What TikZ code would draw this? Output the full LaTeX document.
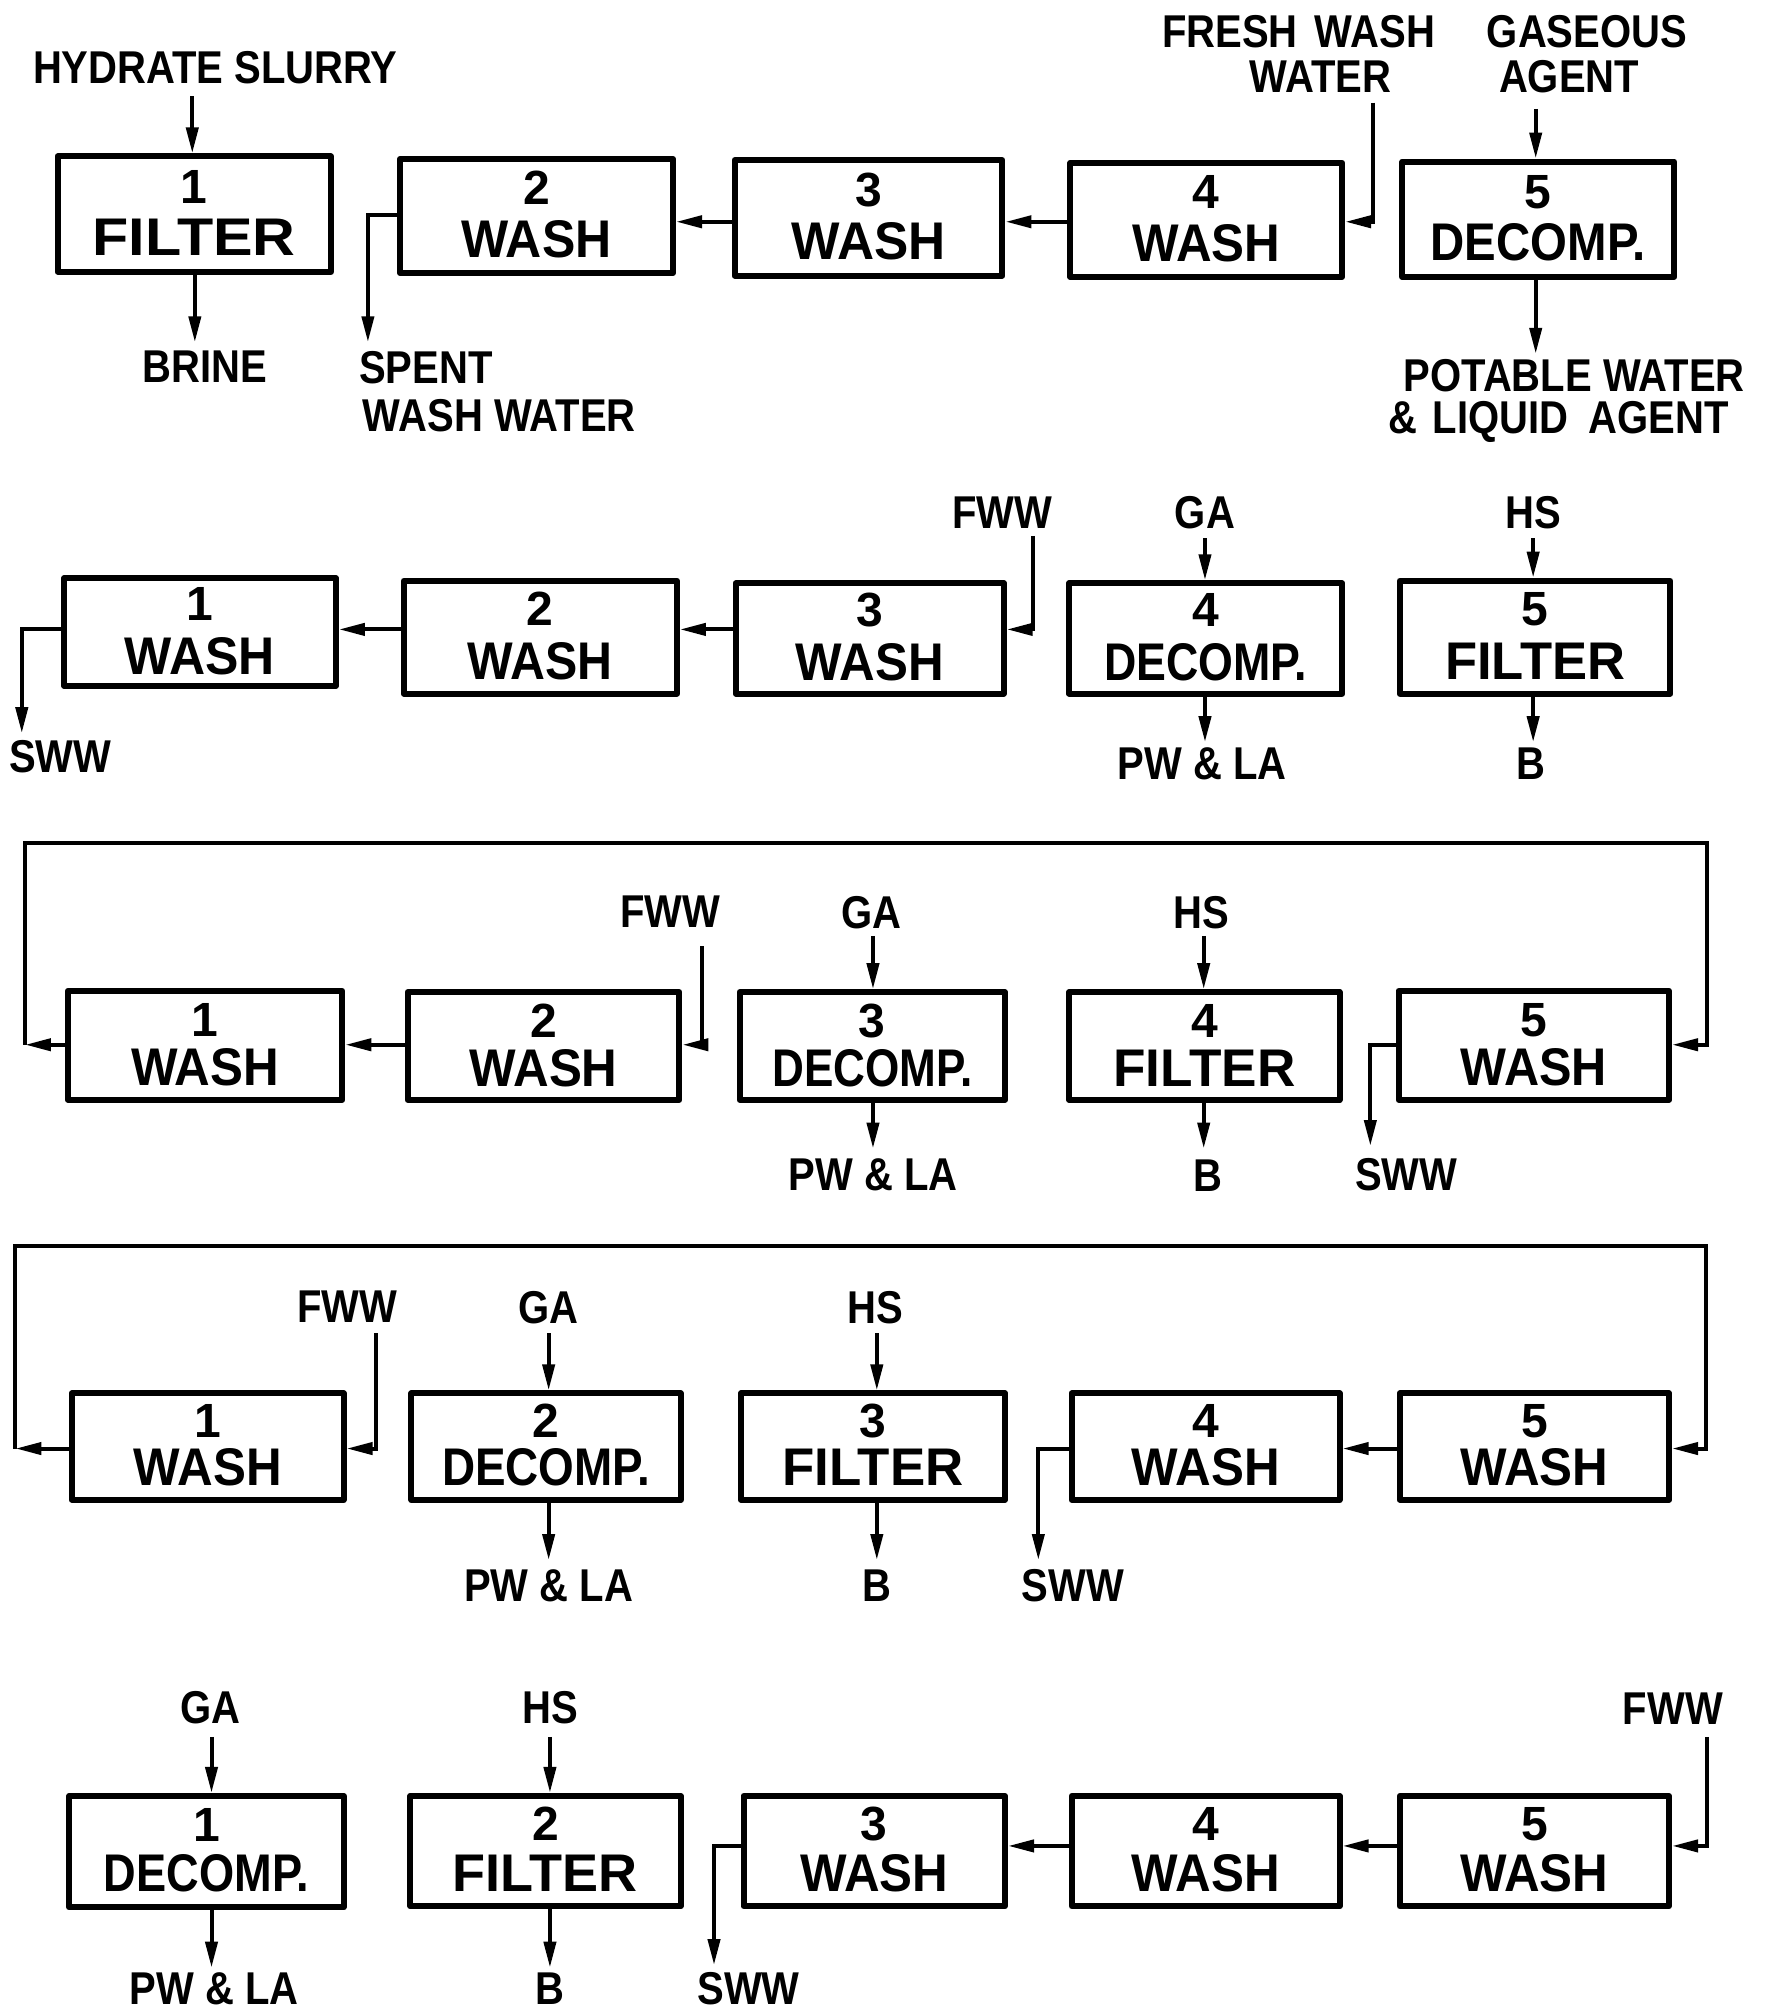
\documentclass[tikz,border=0pt]{standalone}
\usepackage{fontspec}
\setmainfont{Liberation Sans}
\newfontfamily\lblfont{Liberation Sans}[FakeStretch=0.87]
\usetikzlibrary{arrows.meta,fit}
\tikzset{
 box/.style={draw, line width=6pt, line join=round, inner sep=0pt},
 num/.style={inner sep=0pt, font=\bfseries\fontsize{48}{48}\selectfont, text height=33pt, text depth=0pt},
 word/.style={inner sep=0pt, font=\bfseries\fontsize{53}{53}\selectfont, text height=36.5pt, text depth=0pt},
 lbl/.style={inner sep=0pt, font=\lblfont\bfseries\fontsize{46}{46}\selectfont, text height=31.6pt, text depth=0pt},
 conn/.style={line width=4pt, line join=miter},
 arr/.style={conn, -{Triangle[length=26pt,width=12pt]}},
}
% box: name, x1, y1, x2, y2, digit, word width, word
\newcommand{\mkbox}[8]{%
 \node[box, fit={(#2,#3)(#4,#5)}] (#1) {};
 \node[num, yshift=\dup] (#1n) at (#1.center) {#6};
 \node[word, yshift=-\wdn] (#1w) at (#1.center) {\resizebox{#7pt}{\height}{#8}};}
\begin{document}
\begin{tikzpicture}[x=1.2818pt,y=-1.2818pt]
\useasboundingbox (0,0) rectangle (1377,1568);

% ---------------- Row 1 ----------------
\def\dup{27.5pt}\def\wdn{23.5pt}
\mkbox{r1b1}{45}{122}{258}{212}{1}{203}{FILTER}
\mkbox{r1b2}{312}{124}{525}{213}{2}{150}{WASH}
\mkbox{r1b3}{573}{125}{782}{215}{3}{154}{WASH}
\mkbox{r1b4}{835}{127}{1047}{216}{4}{148}{WASH}
\mkbox{r1b5}{1094}{126}{1306}{216}{5}{215}{DECOMP.}

\node[lbl] (t1hs) at (168,53) {HYDRATE SLURRY};
\node[lbl] (t1br) at (160,286) {BRINE};
\node[lbl, anchor=west] (t1sp) at (280,287) {SPENT};
\node[lbl, anchor=west] (t1sw) at (283,324) {WASH WATER};
\node[lbl] (t1fw) at (1013,25) {FRESH\hspace{6pt} WASH};
\node[lbl] (t1wa) at (1030,60) {WATER};
\node[lbl] (t1ga) at (1238,25) {GASEOUS};
\node[lbl] (t1ag) at (1224,60) {AGENT};
\node[lbl] (t1pw) at (1228,293) {POTABLE WATER};
\node[lbl] (t1la) at (1216,326) {\&\hspace{4pt} LIQUID\hspace{9pt} AGENT};

\coordinate (r1y) at (0,173);
\coordinate (r1s) at (0,168);
\coordinate (hs1) at (150,75);
\coordinate (br1) at (152,267);
\coordinate (sp1) at (287,267);
\coordinate (fw1) at (1071,80);
\coordinate (ga1) at (1198,85);
\coordinate (pa1) at (1198,276);
\draw[arr] (hs1) -- (hs1 |- r1b1.north);
\draw[arr] (br1 |- r1b1.south) -- (br1);
\draw[arr] (r1b2.west |- r1s) -| (sp1);
\draw[arr] (r1b3.west |- r1y) -- (r1b2.east |- r1y);
\draw[arr] (r1b4.west |- r1y) -- (r1b3.east |- r1y);
\draw[arr] (fw1) |- (r1b4.east |- r1y);
\draw[arr] (ga1) -- (ga1 |- r1b5.north);
\draw[arr] (pa1 |- r1b5.south) -- (pa1);

% ---------------- Row 2 ----------------
\def\dup{28pt}\def\wdn{24pt}
\mkbox{r2b1}{50}{451}{262}{535}{1}{150}{WASH}
\mkbox{r2b2}{315}{453}{528}{541}{2}{145}{WASH}
\mkbox{r2b3}{574}{455}{783}{541}{3}{148}{WASH}
\mkbox{r2b4}{834}{455}{1047}{541}{4}{203}{DECOMP.}
\mkbox{r2b5}{1092}{453}{1303}{541}{5}{180}{FILTER}

\node[lbl] (t2fw) at (782,400) {FWW};
\node[lbl] (t2ga) at (940,400) {GA};
\node[lbl] (t2hs) at (1196,400) {HS};
\node[lbl] (t2sw) at (47,590) {SWW};
\node[lbl] (t2pw) at (938,596) {PW \& LA};
\node[lbl] (t2b) at (1194,596) {B};

\coordinate (r2y) at (0,491);
\coordinate (sw2) at (17,572);
\coordinate (fw2) at (806,418);
\coordinate (ga2) at (940,420);
\coordinate (pa2) at (940,579);
\coordinate (hs2) at (1196,420);
\coordinate (b2) at (1196,579);
\draw[arr] (r2b1.west |- r2y) -| (sw2);
\draw[arr] (r2b2.west |- r2y) -- (r2b1.east |- r2y);
\draw[arr] (r2b3.west |- r2y) -- (r2b2.east |- r2y);
\draw[arr] (fw2) |- (r2b3.east |- r2y);
\draw[arr] (ga2) -- (ga2 |- r2b4.north);
\draw[arr] (pa2 |- r2b4.south) -- (pa2);
\draw[arr] (hs2) -- (hs2 |- r2b5.north);
\draw[arr] (b2 |- r2b5.south) -- (b2);

% ---------------- Row 3 ----------------
\def\dup{25pt}\def\wdn{22pt}
\mkbox{r3b1}{53}{773}{267}{858}{1}{148}{WASH}
\mkbox{r3b2}{318}{774}{530}{858}{2}{148}{WASH}
\mkbox{r3b3}{577}{774}{784}{858}{3}{200}{DECOMP.}
\mkbox{r3b4}{834}{774}{1045}{858}{4}{182}{FILTER}
\mkbox{r3b5}{1091}{773}{1302}{858}{5}{146}{WASH}

\node[lbl] (t3fw) at (523,711) {FWW};
\node[lbl] (t3ga) at (680,712) {GA};
\node[lbl] (t3hs) at (937,712) {HS};
\node[lbl] (t3pw) at (681,916) {PW \& LA};
\node[lbl] (t3b) at (942,917) {B};
\node[lbl] (t3sw) at (1097,916) {SWW};

\coordinate (r3y) at (0,815);
\coordinate (fw3) at (548,738);
\coordinate (ga3) at (681,730);
\coordinate (pa3) at (681,896);
\coordinate (hs3) at (939,730);
\coordinate (b3) at (939,896);
\coordinate (sw3) at (1069,894);
\coordinate (l3L) at (19.5,815);
\coordinate (l3a) at (19.5,658);
\coordinate (l3b) at (1332,658);
\coordinate (l3R) at (1332,815);
\draw[arr] (r3b1.west |- r3y) -- (l3L);
\draw[arr] (l3L) -- (l3a) -- (l3b) -- (l3R) -- (r3b5.east |- r3y);
\draw[arr] (r3b2.west |- r3y) -- (r3b1.east |- r3y);
\draw[arr] (fw3) |- (r3b2.east |- r3y);
\draw[arr] (ga3) -- (ga3 |- r3b3.north);
\draw[arr] (pa3 |- r3b3.south) -- (pa3);
\draw[arr] (hs3) -- (hs3 |- r3b4.north);
\draw[arr] (b3 |- r3b4.south) -- (b3);
\draw[arr] (r3b5.west |- r3y) -| (sw3);

% ---------------- Row 4 ----------------
\def\dup{26pt}\def\wdn{21pt}
\mkbox{r4b1}{56}{1087}{268}{1170}{1}{148}{WASH}
\mkbox{r4b2}{321}{1087}{531}{1170}{2}{208}{DECOMP.}
\mkbox{r4b3}{578}{1087}{784}{1170}{3}{181}{FILTER}
\mkbox{r4b4}{836}{1087}{1045}{1170}{4}{148}{WASH}
\mkbox{r4b5}{1092}{1087}{1302}{1170}{5}{148}{WASH}

\node[lbl] (t4fw) at (271,1019) {FWW};
\node[lbl] (t4ga) at (428,1020) {GA};
\node[lbl] (t4hs) at (683,1020) {HS};
\node[lbl] (t4pw) at (428,1237) {PW \& LA};
\node[lbl] (t4b) at (684,1237) {B};
\node[lbl] (t4sw) at (837,1237) {SWW};

\coordinate (r4y) at (0,1130);
\coordinate (l4L) at (12,1130);
\coordinate (l4a) at (12,972);
\coordinate (l4b) at (1331,972);
\coordinate (l4R) at (1331,1130);
\coordinate (fw4) at (293,1040);
\coordinate (ga4) at (428,1040);
\coordinate (pa4) at (428,1217);
\coordinate (hs4) at (684,1040);
\coordinate (b4) at (684,1217);
\coordinate (sw4) at (810,1217);
\draw[arr] (r4b1.west |- r4y) -- (l4L);
\draw[arr] (l4L) -- (l4a) -- (l4b) -- (l4R) -- (r4b5.east |- r4y);
\draw[arr] (fw4) |- (r4b1.east |- r4y);
\draw[arr] (ga4) -- (ga4 |- r4b2.north);
\draw[arr] (pa4 |- r4b2.south) -- (pa4);
\draw[arr] (hs4) -- (hs4 |- r4b3.north);
\draw[arr] (b4 |- r4b3.south) -- (b4);
\draw[arr] (r4b5.west |- r4y) -- (r4b4.east |- r4y);
\draw[arr] (r4b4.west |- r4y) -| (sw4);

% ---------------- Row 5 ----------------
\def\dup{27pt}\def\wdn{22pt}
\mkbox{r5b1}{54}{1401}{268}{1488}{1}{205}{DECOMP.}
\mkbox{r5b2}{320}{1401}{531}{1487}{2}{185}{FILTER}
\mkbox{r5b3}{580}{1401}{784}{1487}{3}{148}{WASH}
\mkbox{r5b4}{836}{1401}{1045}{1487}{4}{148}{WASH}
\mkbox{r5b5}{1092}{1401}{1302}{1487}{5}{148}{WASH}

\node[lbl] (t5ga) at (164,1332) {GA};
\node[lbl] (t5hs) at (429,1332) {HS};
\node[lbl] (t5fw) at (1305,1333) {FWW};
\node[lbl] (t5pw) at (167,1551) {PW \& LA};
\node[lbl] (t5b) at (429,1551) {B};
\node[lbl] (t5sw) at (584,1551) {SWW};

\coordinate (r5y) at (0,1440);
\coordinate (ga5) at (165,1355);
\coordinate (pa5) at (165,1535);
\coordinate (hs5) at (429,1355);
\coordinate (b5) at (429,1535);
\coordinate (sw5) at (557,1533);
\coordinate (fw5) at (1332,1355);
\draw[arr] (ga5) -- (ga5 |- r5b1.north);
\draw[arr] (pa5 |- r5b1.south) -- (pa5);
\draw[arr] (hs5) -- (hs5 |- r5b2.north);
\draw[arr] (b5 |- r5b2.south) -- (b5);
\draw[arr] (r5b3.west |- r5y) -| (sw5);
\draw[arr] (r5b4.west |- r5y) -- (r5b3.east |- r5y);
\draw[arr] (r5b5.west |- r5y) -- (r5b4.east |- r5y);
\draw[arr] (fw5) |- (r5b5.east |- r5y);
\end{tikzpicture}
\end{document}
